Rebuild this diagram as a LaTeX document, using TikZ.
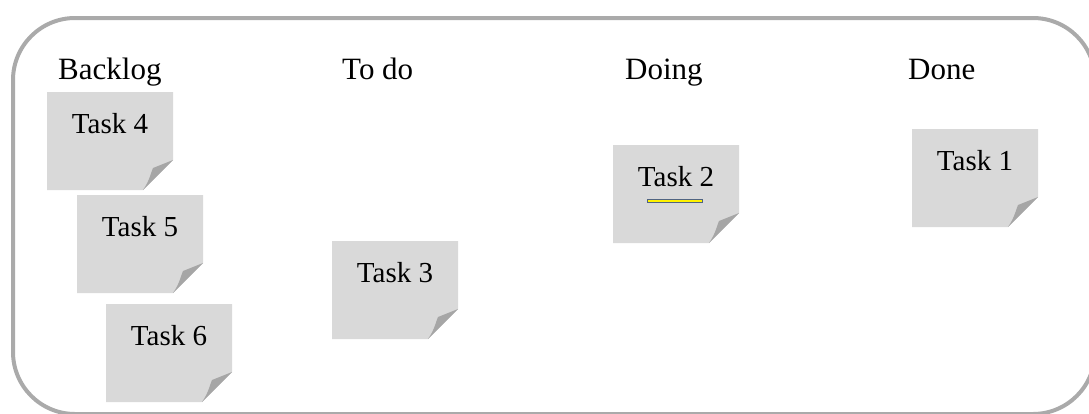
\documentclass[tikz,border=0pt]{standalone}
\usepackage{fontspec}
\setmainfont{Liberation Serif}
\definecolor{notefill}{RGB}{217,217,217}
\definecolor{foldfill}{RGB}{166,166,166}
\definecolor{framegray}{RGB}{170,170,170}
\definecolor{barblue}{RGB}{80,100,130}
\tikzset{
  header/.style={anchor=base west, inner sep=0pt, font=\fontsize{31}{36}\selectfont},
  tasktext/.style={anchor=base, inner sep=0pt, font=\fontsize{29}{34}\selectfont},
  notebody/.style={fill=notefill, draw=none},
  notefold/.style={fill=foldfill, draw=none},
}
% #1 left, #2 top, #3 name, #4 text
\newcommand\stickynote[4]{%
  \fill[notebody] (#1,#2) -- ++(126,0) -- ++(0,68) -- ++(-30,30) -- ++(-96,0) -- cycle;
  \fill[notefold] (#1+126,#2+68) -- (#1+96,#2+98) .. controls (#1+103,#2+88) and (#1+104,#2+80) .. (#1+106,#2+76) -- cycle;
  \node[tasktext] (#3) at (#1+63,#2+41) {#4};
}
\begin{document}
\begin{tikzpicture}[x=1pt,y=-1pt]
\useasboundingbox (0,0) rectangle (1089,413);
\clip (0,0) rectangle (1089,413);
\draw[framegray, line width=4pt, rounded corners=62pt] (13,18) rectangle (1095,414);
\node[header] (backlog) at (58,79) {Backlog};
\node[header] (todo) at (342,79) {To do};
\node[header] (doing) at (625,79) {Doing};
\node[header] (done) at (908,79) {Done};
\stickynote{47}{92}{t4}{Task 4}
\stickynote{77}{195}{t5}{Task 5}
\stickynote{106}{304}{t6}{Task 6}
\stickynote{332}{241}{t3}{Task 3}
\stickynote{613}{145}{t2}{Task 2}
\stickynote{912}{129}{t1}{Task 1}
\filldraw[fill=yellow, draw=barblue, line width=0.6pt] (647,199.5) rectangle (702,202.5);
\end{tikzpicture}
\end{document}
